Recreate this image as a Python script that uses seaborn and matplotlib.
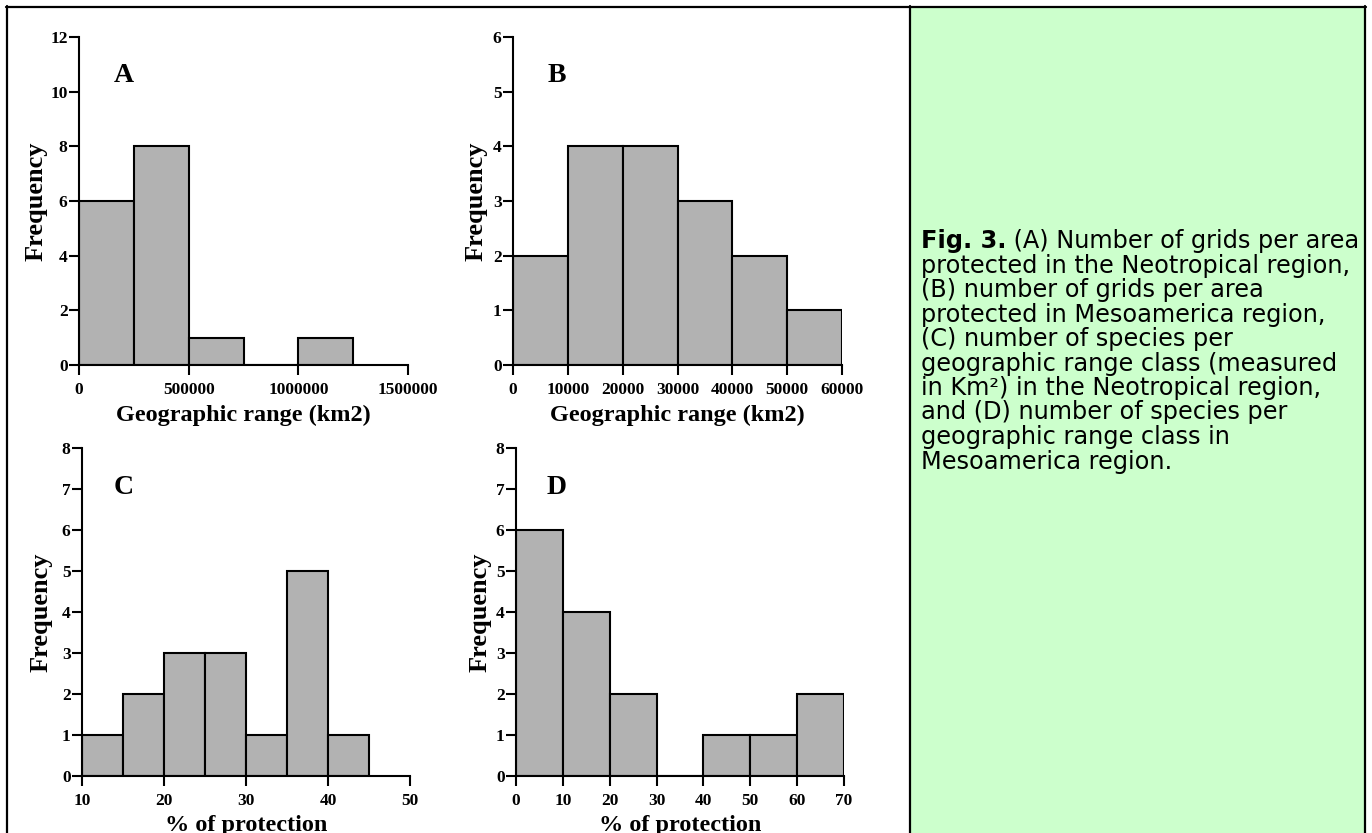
import matplotlib
matplotlib.use("Agg")
import matplotlib.pyplot as plt
import numpy as np
import seaborn as sns
from matplotlib.lines import Line2D
from matplotlib.patches import Rectangle

# bin edges and counts
edges_a = [0, 250000, 500000, 750000, 1000000, 1250000]
counts_a = [6, 8, 1, 0, 1]
edges_b = [0, 10000, 20000, 30000, 40000, 50000, 60000]
counts_b = [2, 4, 4, 3, 2, 1]
edges_c = [10, 15, 20, 25, 30, 35, 40, 45]
counts_c = [1, 2, 3, 3, 1, 5, 1]
edges_d = [0, 10, 20, 30, 40, 50, 60, 70]
counts_d = [6, 4, 2, 0, 1, 1, 2]

xticks_a = [0, 500000, 1000000, 1500000]
xticks_b = [0, 10000, 20000, 30000, 40000, 50000, 60000]
xticks_c = [10, 20, 30, 40, 50]
xticks_d = [0, 10, 20, 30, 40, 50, 60, 70]

caption_lines = [
    " (A) Number of grids per area",
    "protected in the Neotropical region,",
    "(B) number of grids per area",
    "protected in Mesoamerica region,",
    "(C) number of species per",
    "geographic range class (measured",
    "in Km\u00b2) in the Neotropical region,",
    "and (D) number of species per",
    "geographic range class in",
    "Mesoamerica region.",
]

W, H = 1372, 833
BAR_GREY = "#b2b2b2"
PANEL_GREEN = "#ccffcc"

sns.set_style("ticks")
plt.rcParams["font.family"] = ["Liberation Serif", "DejaVu Serif"]
plt.rcParams["font.weight"] = "bold"
for key in ("text.color", "axes.labelcolor", "xtick.color", "ytick.color",
            "xtick.labelcolor", "ytick.labelcolor"):
    plt.rcParams[key] = "black"


def fx(x):
    return x / W


def fy(y):
    return 1 - y / H


def box(left, top, right, bottom):
    return [fx(left), fy(bottom), (right - left) / W, (bottom - top) / H]


fig = plt.figure(figsize=(W / 100, H / 100), dpi=100)
fig.patch.set_facecolor("white")

# green caption panel and frame lines
fig.add_artist(Rectangle((fx(910), 0), fx(1365) - fx(910), fy(6.5),
                         transform=fig.transFigure, facecolor=PANEL_GREEN,
                         edgecolor="none", zorder=0))
for xs, ys in [((6, 1366), (6.5, 6.5)), ((6.5, 6.5), (6, 833)),
               ((910, 910), (6, 833)), ((1364.5, 1364.5), (6, 833))]:
    fig.add_artist(Line2D([fx(v) for v in xs], [fy(v) for v in ys],
                          transform=fig.transFigure, color="black", lw=1.6))

panels = [
    ("A", edges_a, counts_a, xticks_a, 12, range(0, 13, 2),
     (79, 37, 408, 365), "Geographic range (km2)", 48, (124, 76)),
    ("B", edges_b, counts_b, xticks_b, 6, range(0, 7),
     (513, 37, 842, 365), "Geographic range (km2)", 488, (557, 75)),
    ("C", edges_c, counts_c, xticks_c, 8, range(0, 9),
     (82, 448, 410, 776), "% of protection", 53, (124, 487)),
    ("D", edges_d, counts_d, xticks_d, 8, range(0, 9),
     (516, 448, 844, 776), "% of protection", 492, (557, 488)),
]

for letter, edges, counts, xticks, ymax, yticks, rect, xlabel, ylab_x, letter_pos in panels:
    ax = fig.add_axes(box(*rect))
    ax.set_facecolor("none")
    centers = [(lo + hi) / 2 for lo, hi in zip(edges[:-1], edges[1:])]
    sns.histplot(x=centers, weights=counts, bins=edges, color=BAR_GREY,
                 edgecolor="black", linewidth=1.5, alpha=1, ax=ax)
    ax.set_xlim(xticks[0], xticks[-1])
    ax.set_ylim(0, ymax)
    ax.set_xticks(xticks)
    ax.set_yticks(list(yticks))
    ax.set_xticklabels([str(t) for t in xticks])
    sns.despine(ax=ax)
    for side in ("left", "bottom"):
        ax.spines[side].set_linewidth(1.5)
        ax.spines[side].set_color("black")
    ax.tick_params(axis="both", direction="out", length=7.2, width=1.5,
                   color="black", labelcolor="black", labelsize=12.5)
    ax.tick_params(axis="y", pad=1)
    ax.tick_params(axis="x", pad=5)
    ax.set_xlabel(xlabel, fontsize=17.5, fontweight="bold", color="black")
    ax.set_ylabel("Frequency", fontsize=19, fontweight="bold", color="black")
    top_px = 405 if rect[3] < 400 else 815
    ax.xaxis.set_label_coords(fx((rect[0] + rect[2]) / 2), fy(top_px),
                              transform=fig.transFigure)
    ax.yaxis.set_label_coords(fx(ylab_x), fy((rect[1] + rect[3]) / 2),
                              transform=fig.transFigure)
    fig.text(fx(letter_pos[0]), fy(letter_pos[1]), letter, fontsize=20,
             fontweight="bold", ha="center", va="center", color="black")

# caption
cap_font = ["DejaVu Sans"]
x0, base0, step = 921, 248, 24.5
renderer = fig.canvas.get_renderer()
fig_lbl = fig.text(fx(x0), fy(base0), "Fig. 3.", family=cap_font,
                   fontsize=17.3, fontweight="bold", va="baseline", ha="left",
                   color="black")
ext = fig_lbl.get_window_extent(renderer)
for i, line in enumerate(caption_lines):
    x = ext.x1 / W if i == 0 else fx(x0)
    fig.text(x, fy(base0 + i * step), line, family=cap_font, fontsize=17.3,
             fontweight="normal", va="baseline", ha="left", color="black")

fig.savefig("out.png", dpi=100)
